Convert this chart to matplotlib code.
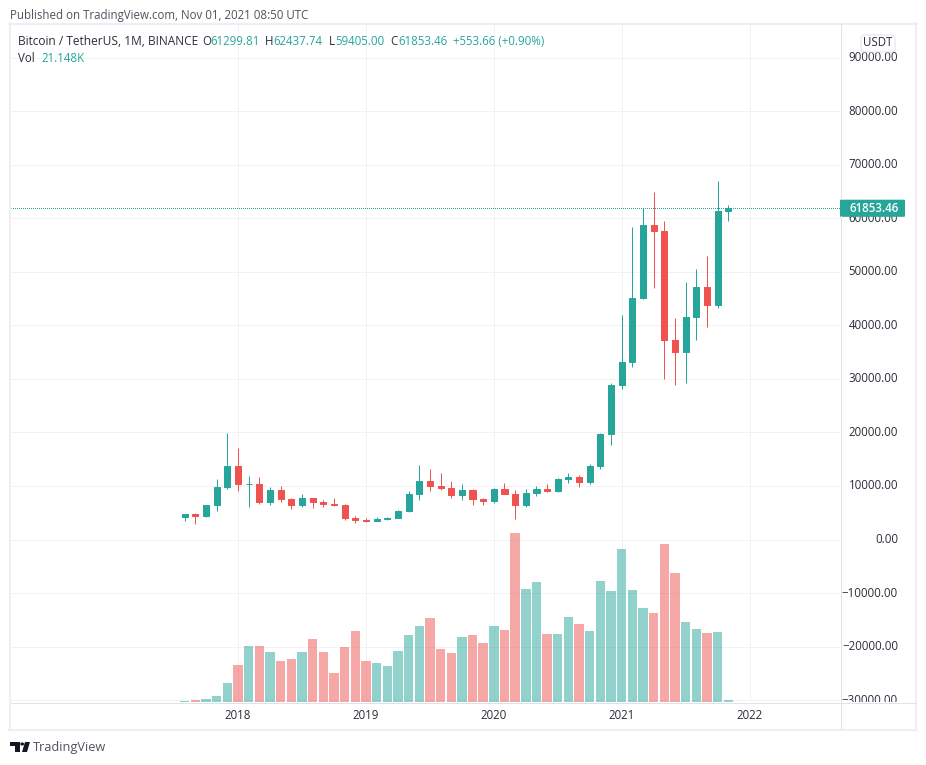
import numpy as np
import matplotlib
matplotlib.use('Agg')
import matplotlib.pyplot as plt
from matplotlib.patches import Polygon, Circle, FancyBboxPatch
from matplotlib.lines import Line2D

# monthly candles, Aug 2017 to Nov 2021
start_index = -5  # 0 is Jan 2018
opens = [4261, 4689, 4378, 6463, 9837, 13715, 10285, 10325, 6922, 9246, 7485, 6391, 7727,
         7011, 6626, 6369, 4041, 3701, 3434, 3814, 4102, 5320, 8555, 10854, 10080, 9600,
         8299, 9199, 7546, 7195, 9352, 8523, 6412, 8620, 9448, 9138, 11335, 11649, 10776,
         13791, 19698, 28923, 33092, 45134, 58739, 57697, 37253, 35045, 41461, 47100,
         43820, 61299.81]
highs = [4745, 4939, 6486, 11300, 19798, 17176, 11786, 11710, 9759, 10020, 7786, 8491, 7780,
         7410, 7680, 6586, 4312, 4069, 4198, 4120, 5600, 9074, 13970, 13147, 12325, 10905,
         10370, 9508, 7750, 9575, 10500, 9188, 9460, 10067, 10380, 11444, 12468, 12050,
         14100, 19863, 29300, 41950, 58352, 61844, 64854, 59500, 41330, 48168, 50500,
         52920, 67000, 62437.74]
lows = [3400, 2817, 4110, 5325, 9380, 9035, 6000, 6600, 6430, 7045, 5750, 6070, 5880,
        6100, 6205, 3652, 3156, 3349, 3373, 3733, 4067, 5173, 7444, 9080, 9320, 7710,
        7300, 6515, 6435, 6871, 8445, 3782, 6150, 8117, 8833, 8893, 10518, 9825, 10374,
        13195, 17572, 28130, 32296, 44950, 46930, 30000, 28805, 29278, 37332, 39600,
        43283, 59405]
closes = [4724, 4378, 6463, 9838, 13716, 10285, 10326, 6923, 9246, 7485, 6391, 7727, 7000,
          6626, 6371, 4041, 3702, 3434, 3813, 4102, 5320, 8555, 10854, 10080, 9600, 8293,
          9199, 7546, 7195, 9353, 8523, 6410, 8620, 9448, 9138, 11335, 11649, 10776, 13791,
          19698, 28923, 33092, 45135, 58740, 57694, 37253, 35045, 41461, 47100, 43824,
          61299, 61853.46]
# volume in thousands
volumes = [16, 29, 41, 78, 239, 463, 698, 698, 624, 512, 537, 624, 785, 624, 363, 686, 884,
           512, 487, 450, 636, 834, 946, 1045, 657, 611, 806, 831, 732, 942, 893, 2096,
           1401, 1488, 843, 843, 1054, 967, 880, 1500, 1376, 1897, 1389, 1166, 1104, 1959,
           1600, 992, 905, 856, 868, 21.148]
vol_up = [True, False, True, True, True, False, True, False, True, False, False, True, False,
          False, False, False, False, False, True, True, True, True, True, False, False, False,
          True, False, False, True, False, False, True, True, False, True, True, False, True,
          True, True, True, True, True, False, False, False, True, True, False, True, True]
year_ticks = [0, 12, 24, 36, 48]
year_labels = ['2018', '2019', '2020', '2021', '2022']
price_ticks = list(range(-30000, 100000, 10000))
last_price = 61853.46

UP = '#26a69a'
DOWN = '#ef5350'
GRID = '#f2f2f4'
FRAME = '#eeeef4'
BORDER = '#e0e3eb'
TEXT = '#2a2e39'
W, H = 926, 765
FONT = 'Open Sans'
PX = 0.72  # one pixel in points
FS = 8.3

plt.rcParams['font.family'] = [FONT, 'DejaVu Sans']

def px_axes(x0, y0, x1, y1):
    # axes placed in image pixels, y counted from the top
    return fig.add_axes([x0 / W, 1 - y1 / H, (x1 - x0) / W, (y1 - y0) / H])

def price_limits(top, bottom):
    scale = 0.005355
    return (539.5 - bottom) / scale, (539.5 - top) / scale

fig = plt.figure(figsize=(W / 100, H / 100), dpi=100)
ax = px_axes(11, 24, 840, 702)
ax_vol = px_axes(11, 24, 840, 702)
ax_r = px_axes(840, 24, 915, 702)
ax_b = px_axes(11, 702, 840, 729)

ylim = price_limits(24, 702)
xlim = ((11 - 238) / 10.66, (840 - 238) / 10.66)

# grid and volume go under the candles
ax_vol.set_zorder(1)
ax.set_zorder(2)
ax.patch.set_alpha(0)
ax_vol.set_xlim(xlim)
ax_vol.set_ylim(0, 678 * 12.4)
ax.set_xlim(xlim)
ax.set_ylim(ylim)
for y in price_ticks:
    ax_vol.axhline((y - ylim[0]) / (ylim[1] - ylim[0]) * 678 * 12.4, color=GRID, lw=PX, zorder=0)
for x in year_ticks:
    ax_vol.axvline(x, color=GRID, lw=PX, zorder=0)

xs = np.arange(len(opens)) + start_index
vol_colors = [UP if u else DOWN for u in vol_up]
ax_vol.bar(xs, volumes, width=0.88, color=vol_colors, alpha=0.5, linewidth=0, zorder=2)

for x, o, h, l, c in zip(xs, opens, highs, lows, closes):
    col = UP if c >= o else DOWN
    ax.plot([x, x], [l, h], color=col, lw=PX, solid_capstyle='butt', snap=True, zorder=3)
    ax.bar(x, abs(c - o), bottom=min(o, c), width=0.57, color=col, edgecolor=col, linewidth=PX, zorder=4)

# dash offset keeps the dots on whole pixels
ax.axhline(last_price, color=UP, lw=PX, ls=(0.5, (1, 1)), snap=True, zorder=5)

for a in (ax, ax_vol, ax_r, ax_b):
    a.set_xticks([])
    a.set_yticks([])
    for s in a.spines.values():
        s.set_visible(False)

# price scale on the right, labels cut by the pane edge
ax_r.set_xlim(840, 915)
ax_r.set_ylim(ylim)
for y in price_ticks:
    ax_r.text(898, y, f'{y:.2f}'.replace('-', '\u2212'), ha='right', va='center', fontsize=FS,
              color=TEXT, clip_on=True)
ax_r.add_patch(FancyBboxPatch((836, last_price - 1600), 69, 3200,
                              boxstyle='round,pad=0,rounding_size=1', mutation_aspect=180,
                              fc=UP, ec='none', zorder=5, clip_on=True))
ax_r.text(874.5, last_price, f'{last_price:.2f}', ha='center', va='center', fontsize=FS,
          color='white', fontweight='semibold', zorder=6)

# year labels
ax_b.set_xlim(xlim)
ax_b.set_ylim(0, 1)
for x, lab in zip(year_ticks, year_labels):
    ax_b.text(x, 0.5, lab, ha='center', va='center', fontsize=FS, color=TEXT)

def fig_line(x0, y0, x1, y1, color=BORDER, lw=PX):
    fig.add_artist(Line2D([x0 / W, x1 / W], [1 - y0 / H, 1 - y1 / H], color=color, lw=lw, zorder=10))

def fig_text(x, y, s, color=TEXT, size=FS, **kw):
    return fig.text(x / W, 1 - y / H, s, color=color, fontsize=size, va='center', **kw)

# frame around the chart
fig_line(9, 23.5, 917, 23.5, FRAME, 1.45)
fig_line(9, 730, 917, 730, FRAME, 1.45)
fig_line(10, 23, 10, 730, FRAME, 1.45)
fig_line(916, 23, 916, 730, FRAME, 1.45)
# scale separator stops at the price tag
fig_line(840.5, 24, 840.5, 199)
fig_line(840.5, 216, 840.5, 729)
fig_line(11, 702.5, 915, 702.5)

# header texts
fig_text(10, 15, 'Published on TradingView.com, Nov 01, 2021 08:50 UTC', '#50535e')
fig_text(18, 41.5, 'Bitcoin / TetherUS, 1M, BINANCE', TEXT, size=8.6)
legend = [(202, 'O', TEXT), (210, '61299.81', UP),
          (265, 'H', TEXT), (273, '62437.74', UP), (329, 'L', TEXT), (335, '59405.00', UP),
          (390, 'C', TEXT), (398, '61853.46', UP), (453, '+553.66 (+0.90%)', UP)]
for x, s, col in legend:
    fig_text(x, 41.5, s, col)
fig_text(18, 58.5, 'Vol', TEXT)
fig_text(41, 58.5, '21.148K', UP)

# USDT button
fig.add_artist(FancyBboxPatch((861 / W, 1 - 52 / H), 34 / W, 17 / H,
                              boxstyle='round,pad=0,rounding_size=0.004',
                              transform=fig.transFigure, fc='white', ec=BORDER, lw=PX, zorder=11))
fig_text(878, 43, 'USDT', TEXT, ha='center', zorder=12)

# footer logo
def logo_poly(points):
    pts = [(x / W, 1 - y / H) for x, y in points]
    fig.add_artist(Polygon(pts, closed=True, transform=fig.transFigure, fc='#131722', ec='none'))

logo_poly([(10, 742), (20, 742), (20, 752), (15, 752), (15, 746), (10, 746)])
logo_poly([(25, 742), (30, 742), (27, 752), (22, 752)])
fig.add_artist(Circle((22.2 / W, 1 - 744 / H), 1.9 / W, transform=fig.transFigure, fc='#131722', ec='none'))
fig_text(33, 747.5, 'TradingView', '#50535e', size=9.2)

fig.savefig('out.png', dpi=100)
